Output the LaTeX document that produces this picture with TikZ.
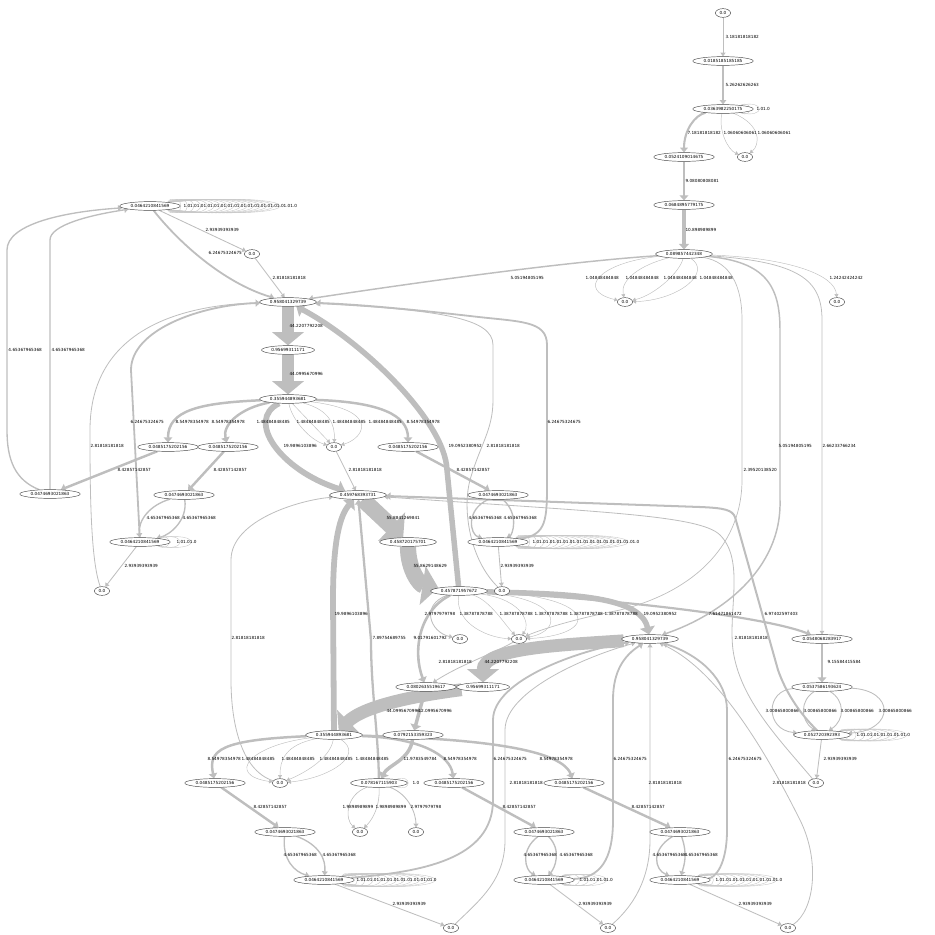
\documentclass[tikz,border=0pt]{standalone}
\usepackage{fontspec}
\setmainfont{DejaVu Sans}
\usetikzlibrary{shapes.geometric,arrows.meta,backgrounds}
\definecolor{edgec}{RGB}{190,190,190}
\definecolor{loopc}{RGB}{200,200,200}
\definecolor{nodec}{RGB}{70,70,70}
\newcommand{\fs}{\fontsize{4.2}{5}\selectfont}
\newcounter{labc}
\newcommand{\el}[3]{\stepcounter{labc}\node[lb] (lab\arabic{labc}) at (#1,#2) {#3};}
\newcommand{\ones}[1]{\foreach \k in {1,...,#1}{1.0}}
\newcommand{\mkloops}[4]{%
  \foreach \i in {1,...,#2}{%
    \pgfmathsetmacro{\dd}{#3*\i/#2}
    \draw[draw=loopc, line width=0.4pt] (#1.12) .. controls +(\dd,-#4) and +(\dd,#4) .. (#1.-12);
  }}
\begin{document}
\begin{tikzpicture}[x=1pt,y=-1pt,
  nd/.style={ellipse, draw=nodec, line width=0.45pt, inner xsep=2pt, inner ysep=1.5pt, font=\fs, fill=white},
  lb/.style={font=\fs, anchor=west, inner sep=0.3pt},
  ed/.style={draw=edgec, line width=#1, -{Triangle[length=3pt 0.8, width=3pt 2.2]}},
]
\useasboundingbox (0,0) rectangle (935,935);
% nodes
\node[nd] (A) at (723,13) {0.0};
\node[nd] (B) at (723,61) {0.0185185185185};
\node[nd] (C) at (723,109) {0.0363982250175};
\node[nd] (D) at (684,157) {0.0524109014675};
\node[nd] (E) at (745,157) {0.0};
\node[nd] (F) at (684,205) {0.0684895779175};
\node[nd] (G) at (684,254) {0.089857442348};
\node[nd] (H) at (625,302) {0.0};
\node[nd] (I) at (837,302) {0.0};
\node[nd] (J) at (150,206) {0.0464210841569};
\node[nd] (K) at (252,254) {0.0};
\node[nd] (L) at (288,302) {0.958041329739};
\node[nd] (M) at (288,350) {0.95699311171};
\node[nd] (N) at (288,399) {0.355944893681};
\node[nd] (O1) at (168,447) {0.0485175202156};
\node[nd] (O2) at (228,447) {0.0485175202156};
\node[nd] (P) at (334,447) {0.0};
\node[nd] (O3) at (408,447) {0.0485175202156};
\node[nd] (Q1) at (50,494) {0.0474693021863};
\node[nd] (Q2) at (184,495) {0.0474693021863};
\node[nd] (R) at (358,495) {0.459768393731};
\node[nd] (Q3) at (498,495) {0.0474693021863};
\node[nd] (S1) at (140,542) {0.0464210841569};
\node[nd] (T) at (408,542) {0.458720175701};
\node[nd] (S2) at (498,542) {0.0464210841569};
\node[nd] (U1) at (102,591) {0.0};
\node[nd] (V) at (459,591) {0.457871957672};
\node[nd] (W) at (502,591) {0.0};
\node[nd] (X) at (460,639) {0.0};
\node[nd] (Y) at (519,639) {0.0};
\node[nd] (Z) at (650,639) {0.958041329739};
\node[nd] (AA) at (822,639) {0.0548068283917};
\node[nd] (AB) at (426,687) {0.0802635519617};
\node[nd] (AC) at (483,687) {0.95699311171};
\node[nd] (AD) at (822,687) {0.0537586193624};
\node[nd] (AE) at (334,735) {0.355944893681};
\node[nd] (AF) at (413,735) {0.0792153359323};
\node[nd] (AG) at (822,735) {0.052720392393};
\node[nd] (AH) at (215,783) {0.0485175202156};
\node[nd] (AI) at (280,783) {0.0};
\node[nd] (AJ) at (379,783) {0.078167115903};
\node[nd] (AK) at (454,783) {0.0485175202156};
\node[nd] (AL) at (574,783) {0.0485175202156};
\node[nd] (AM) at (816,783) {0.0};
\node[nd] (AN) at (360,832) {0.0};
\node[nd] (AO) at (416,832) {0.0};
\node[nd] (AP) at (285,832) {0.0474693021863};
\node[nd] (AQ) at (544,832) {0.0474693021863};
\node[nd] (AR) at (680,832) {0.0474693021863};
\node[nd] (AS) at (324,880) {0.0464210841569};
\node[nd] (AT) at (544,880) {0.0464210841569};
\node[nd] (AU) at (680,880) {0.0464210841569};
\node[nd] (AV) at (451,928) {0.0};
\node[nd] (AW) at (608,928) {0.0};
\node[nd] (AX) at (788,928) {0.0};

\begin{pgfonlayer}{background}
% top chain
\draw[ed=0.92pt] (A) -- (B);
\draw[ed=1.53pt] (B) -- (C);
\mkloops{C}{2}{25}{6}
\draw[ed=2.08pt] (C) .. controls (695,115) and (684,130) .. (D);
\draw[ed=0.45pt] (C) .. controls (718,130) and (728,150) .. (E);
\draw[ed=0.45pt] (C) .. controls (762,125) and (760,145) .. (E);
\draw[ed=2.63pt] (D) -- (F);
\draw[ed=3.16pt] (F) -- (G);
\draw[ed=0.45pt] (G) .. controls (600,262) and (575,290) .. (H);
\draw[ed=0.45pt] (G) .. controls (640,265) and (620,280) .. (H);
\draw[ed=0.45pt] (G) .. controls (680,272) and (655,295) .. (H);
\draw[ed=0.45pt] (G) .. controls (712,272) and (680,300) .. (H);
\draw[ed=0.45pt] (G) .. controls (790,258) and (835,275) .. (I);
\draw[ed=1.47pt] (G) .. controls (560,262) and (400,285) .. (L);
\draw[ed=1.47pt] (G) .. controls (765,262) and (780,285) .. (780,330) -- (780,500) .. controls (782,570) and (720,615) .. (Z);
\draw[ed=0.77pt] (G) .. controls (800,262) and (822,280) .. (822,320) -- (AA);
\draw[ed=0.7pt] (G) .. controls (730,262) and (742,285) .. (742,320) -- (742,480) .. controls (742,540) and (700,590) .. (620,610) .. controls (570,620) and (540,630) .. (Y);
% J cluster
\mkloops{J}{17}{150}{13}
\draw[ed=0.85pt] (J) -- (K);
\draw[ed=1.81pt] (J) .. controls (185,250) and (230,285) .. (L);
\draw[ed=0.82pt] (K) -- (L);
\draw[ed=1.35pt] (Q1) .. controls (15,480) and (7,460) .. (7,430) -- (7,250) .. controls (7,225) and (60,212) .. (J);
\draw[ed=1.35pt] (Q1) -- (50,240) .. controls (50,225) and (90,215) .. (J);
% L M N
\draw[ed=12.8pt] (L) -- (M);
\draw[ed=12.8pt] (M) -- (N);
\draw[ed=2.48pt] (N) .. controls (200,403) and (168,410) .. (O1);
\draw[ed=2.48pt] (N) .. controls (240,408) and (222,425) .. (O2);
\draw[ed=0.45pt] (N) -- (P);
\draw[ed=0.45pt] (N) .. controls (292,420) and (310,440) .. (P);
\draw[ed=0.45pt] (N) .. controls (330,410) and (335,425) .. (P);
\draw[ed=0.45pt] (N) .. controls (380,410) and (365,438) .. (P);
\draw[ed=2.48pt] (N) .. controls (380,402) and (408,415) .. (O3);
\draw[ed=5.8pt] (N) .. controls (245,420) and (280,470) .. (R);
\draw[ed=0.82pt] (P) -- (R);
\draw[ed=2.44pt] (O1) -- (Q1);
\draw[ed=2.44pt] (O2) -- (Q2);
\draw[ed=2.44pt] (O3) -- (Q3);
\draw[ed=1.35pt] (Q2) .. controls (150,505) and (138,520) .. (S1);
\draw[ed=1.35pt] (Q2) .. controls (188,520) and (170,535) .. (S1);
\mkloops{S1}{3}{45}{8}
\draw[ed=0.85pt] (S1) -- (U1);
\draw[ed=1.81pt] (S1) -- (131,370) .. controls (131,330) and (200,305) .. (L);
\draw[ed=0.82pt] (U1) .. controls (90,560) and (90,480) .. (90,430) .. controls (90,330) and (180,305) .. (L);
\draw[ed=1.35pt] (Q3) .. controls (465,510) and (470,535) .. (S2);
\draw[ed=1.35pt] (Q3) .. controls (520,515) and (512,535) .. (S2);
\mkloops{S2}{16}{150}{13}
\draw[ed=0.85pt] (S2) -- (W);
\draw[ed=1.81pt] (S2) .. controls (547,535) and (547,520) .. (547,480) -- (547,345) .. controls (547,320) and (520,322) .. (470,316) .. controls (400,308) and (350,304) .. (L);
\draw[ed=0.82pt] (W) .. controls (470,560) and (462,510) .. (470,480) .. controls (480,445) and (493,430) .. (493,400) -- (493,345) .. controls (493,318) and (440,310) .. (L);
% R T V
\draw[ed=16.2pt] (R) -- (T);
\draw[ed=16.2pt] (T) .. controls (408,570) and (420,585) .. (V);
\draw[ed=5.5pt] (V) -- (447,470) .. controls (445,420) and (360,340) .. (L);
\draw[ed=5.5pt] (V) .. controls (560,594) and (640,594) .. (Z);
\draw[ed=2.2pt] (V) .. controls (600,598) and (760,615) .. (AA);
\draw[ed=0.86pt] (V) .. controls (420,605) and (430,632) .. (X);
\draw[ed=0.45pt] (V) .. controls (455,625) and (490,638) .. (Y);
\draw[ed=0.45pt] (V) .. controls (490,600) and (505,625) .. (Y);
\draw[ed=0.45pt] (V) .. controls (525,600) and (530,625) .. (Y);
\draw[ed=0.45pt] (V) .. controls (560,598) and (565,630) .. (Y);
\draw[ed=0.45pt] (V) .. controls (600,596) and (600,635) .. (Y);
\draw[ed=2.6pt] (V) .. controls (420,610) and (412,650) .. (AB);
\draw[ed=0.82pt] (Y) .. controls (490,655) and (460,665) .. (AB);
% Z cluster
\draw[ed=12.8pt] (Z) .. controls (560,645) and (483,648) .. (AC);
\draw[ed=12.8pt] (AC) .. controls (420,695) and (365,705) .. (AE);
\draw[ed=3.5pt] (AB) -- (AF);
\draw[ed=3.47pt] (AF) .. controls (410,760) and (388,765) .. (AJ);
\mkloops{AJ}{1}{16}{6}
\draw[ed=0.58pt] (AJ) .. controls (345,795) and (345,820) .. (AN);
\draw[ed=0.58pt] (AJ) .. controls (380,810) and (370,822) .. (AN);
\draw[ed=0.86pt] (AJ) .. controls (410,795) and (416,815) .. (AO);
\draw[ed=2.29pt] (AJ) .. controls (378,730) and (371,690) .. (371,640) -- (R);
\draw[ed=5.8pt] (AE) -- (333,600) .. controls (333,540) and (340,515) .. (R);
\draw[ed=2.48pt] (AE) .. controls (220,740) and (208,750) .. (AH);
\draw[ed=0.45pt] (AE) .. controls (250,745) and (225,775) .. (AI);
\draw[ed=0.45pt] (AE) .. controls (285,745) and (280,760) .. (AI);
\draw[ed=0.45pt] (AE) .. controls (330,760) and (300,775) .. (AI);
\draw[ed=0.45pt] (AE) .. controls (365,755) and (330,778) .. (AI);
\draw[ed=0.82pt] (AI) .. controls (240,770) and (231,720) .. (231,680) -- (231,560) .. controls (231,520) and (300,500) .. (R);
\draw[ed=2.48pt] (AE) .. controls (420,738) and (450,755) .. (AK);
\draw[ed=2.48pt] (AE) .. controls (450,738) and (560,745) .. (AL);
\draw[ed=2.44pt] (AH) -- (AP);
\draw[ed=2.44pt] (AK) -- (AQ);
\draw[ed=2.44pt] (AL) -- (AR);
\draw[ed=1.35pt] (AP) .. controls (282,860) and (295,872) .. (AS);
\draw[ed=1.35pt] (AP) .. controls (320,845) and (326,860) .. (AS);
\draw[ed=1.35pt] (AQ) .. controls (520,850) and (525,870) .. (AT);
\draw[ed=1.35pt] (AQ) .. controls (562,850) and (555,868) .. (AT);
\draw[ed=1.35pt] (AR) .. controls (650,850) and (655,870) .. (AU);
\draw[ed=1.35pt] (AR) .. controls (688,855) and (684,865) .. (AU);
\mkloops{AS}{12}{125}{12}
\mkloops{AT}{5}{60}{9}
\mkloops{AU}{10}{105}{11}
\draw[ed=0.85pt] (AS) -- (AV);
\draw[ed=0.85pt] (AT) -- (AW);
\draw[ed=0.85pt] (AU) -- (AX);
\draw[ed=1.81pt] (AS) .. controls (420,872) and (493,860) .. (493,800) -- (493,720) .. controls (493,680) and (580,650) .. (Z);
\draw[ed=0.82pt] (AV) .. controls (480,900) and (505,880) .. (505,840) -- (505,730) .. controls (505,690) and (590,655) .. (Z);
\draw[ed=1.81pt] (AT) .. controls (600,878) and (613,860) .. (613,820) -- (613,700) .. controls (613,670) and (625,655) .. (Z);
\draw[ed=0.82pt] (AW) .. controls (640,900) and (650,870) .. (650,840) -- (Z);
\draw[ed=1.81pt] (AU) .. controls (715,878) and (727,865) .. (727,830) -- (727,710) .. controls (727,680) and (700,655) .. (Z);
\draw[ed=0.82pt] (AX) .. controls (815,910) and (820,860) .. (800,820) .. controls (770,760) and (720,670) .. (Z);
% right cluster
\draw[ed=2.66pt] (AA) -- (AD);
\draw[ed=0.87pt] (AD) .. controls (765,690) and (765,730) .. (AG);
\draw[ed=0.87pt] (AD) .. controls (800,700) and (800,720) .. (AG);
\draw[ed=0.87pt] (AD) .. controls (845,700) and (845,720) .. (AG);
\draw[ed=0.87pt] (AD) .. controls (895,690) and (895,730) .. (AG);
\mkloops{AG}{8}{90}{10}
\draw[ed=0.85pt] (AG) -- (AM);
\draw[ed=2.02pt] (AG) .. controls (798,712) and (785,690) .. (778,670) -- (735,517) .. controls (732,510) and (725,508) .. (700,507) -- (R);
\draw[ed=0.82pt] (AM) .. controls (780,740) and (740,700) .. (733,650) .. controls (728,610) and (745,560) .. (720,535) .. controls (700,515) and (600,512) .. (R);
\end{pgfonlayer}

% labels
\el{725}{37}{3.18181818182}
\el{725}{85}{5.26262626263}
\el{756}{109}{\ones{2}}
\el{687}{133}{7.18181818182}
\el{723}{133}{1.06060606061}
\el{757}{133}{1.06060606061}
\el{685}{181}{9.08080808081}
\el{685}{230}{10.898989899}
\el{585}{278}{1.04848484848}
\el{625}{278}{1.04848484848}
\el{663}{278}{1.04848484848}
\el{699}{278}{1.04848484848}
\el{829}{278}{1.24242424242}
\el{510}{278}{5.05194805195}
\el{778}{446}{5.05194805195}
\el{822}{446}{2.66233766234}
\el{743}{470}{2.39520138520}
\el{183}{206}{\ones{17}}
\el{205}{230}{2.93939393939}
\el{208}{253}{6.24675324675}
\el{272}{278}{2.81818181818}
\el{8}{350}{4.65367965368}
\el{51}{350}{4.65367965368}
\el{289}{326}{44.2207792208}
\el{289}{374}{44.0995670996}
\el{175}{422}{8.54978354978}
\el{211}{422}{8.54978354978}
\el{256}{422}{1.48484848485}
\el{296}{422}{1.48484848485}
\el{332}{422}{1.48484848485}
\el{368}{422}{1.48484848485}
\el{406}{422}{8.54978354978}
\el{283}{446}{19.9896103896}
\el{348}{470}{2.81818181818}
\el{117}{470}{8.42857142857}
\el{213}{470}{8.42857142857}
\el{456}{470}{8.42857142857}
\el{486}{446}{2.81818181818}
\el{448}{446}{19.0952380952}
\el{547}{422}{6.24675324675}
\el{90}{446}{2.81818181818}
\el{130}{422}{6.24675324675}
\el{146}{518}{4.65367965368}
\el{182}{518}{4.65367965368}
\el{176}{542}{\ones{3}}
\el{124}{566}{2.93939393939}
\el{386}{518}{55.8841269841}
\el{413}{566}{55.8629148629}
\el{468}{518}{4.65367965368}
\el{503}{518}{4.65367965368}
\el{532}{542}{\ones{16}}
\el{500}{566}{2.93939393939}
\el{424}{614}{2.9797979798}
\el{459}{614}{1.38787878788}
\el{499}{614}{1.38787878788}
\el{534}{614}{1.38787878788}
\el{569}{614}{1.38787878788}
\el{604}{614}{1.38787878788}
\el{643}{614}{19.0952380952}
\el{708}{614}{7.61471861472}
\el{764}{614}{6.97402597403}
\el{413}{638}{9.01791601792}
\el{334}{614}{19.9896103896}
\el{372}{638}{7.89754689755}
\el{231}{638}{2.81818181818}
\el{438}{662}{2.81818181818}
\el{484}{662}{44.2207792208}
\el{734}{638}{2.81818181818}
\el{827}{662}{9.15584415584}
\el{386}{711}{44.0995670996}
\el{418}{711}{12.0995670996}
\el{207}{759}{8.54978354978}
\el{241}{759}{1.48484848485}
\el{281}{759}{1.48484848485}
\el{319}{759}{1.48484848485}
\el{355}{759}{1.48484848485}
\el{403}{759}{11.9783549784}
\el{443}{759}{8.54978354978}
\el{493}{759}{6.24675324675}
\el{539}{759}{8.54978354978}
\el{613}{759}{6.24675324675}
\el{728}{759}{6.24675324675}
\el{412}{783}{\ones{1}}
\el{253}{807}{8.42857142857}
\el{342}{807}{1.9898989899}
\el{375}{807}{1.9898989899}
\el{410}{807}{2.9797979798}
\el{502}{807}{8.42857142857}
\el{631}{807}{8.42857142857}
\el{509}{783}{2.81818181818}
\el{648}{783}{2.81818181818}
\el{772}{783}{2.81818181818}
\el{823}{759}{2.93939393939}
\el{283}{855}{4.65367965368}
\el{322}{855}{4.65367965368}
\el{523}{855}{4.65367965368}
\el{559}{855}{4.65367965368}
\el{652}{855}{4.65367965368}
\el{684}{855}{4.65367965368}
\el{356}{880}{\ones{12}}
\el{579}{880}{\ones{5}}
\el{715}{880}{\ones{10}}
\el{392}{904}{2.93939393939}
\el{578}{904}{2.93939393939}
\el{738}{904}{2.93939393939}
\el{765}{711}{3.00865800866}
\el{803}{711}{3.00865800866}
\el{840}{711}{3.00865800866}
\el{878}{711}{3.00865800866}
\el{856}{735}{\ones{8}}
\end{tikzpicture}
\end{document}
